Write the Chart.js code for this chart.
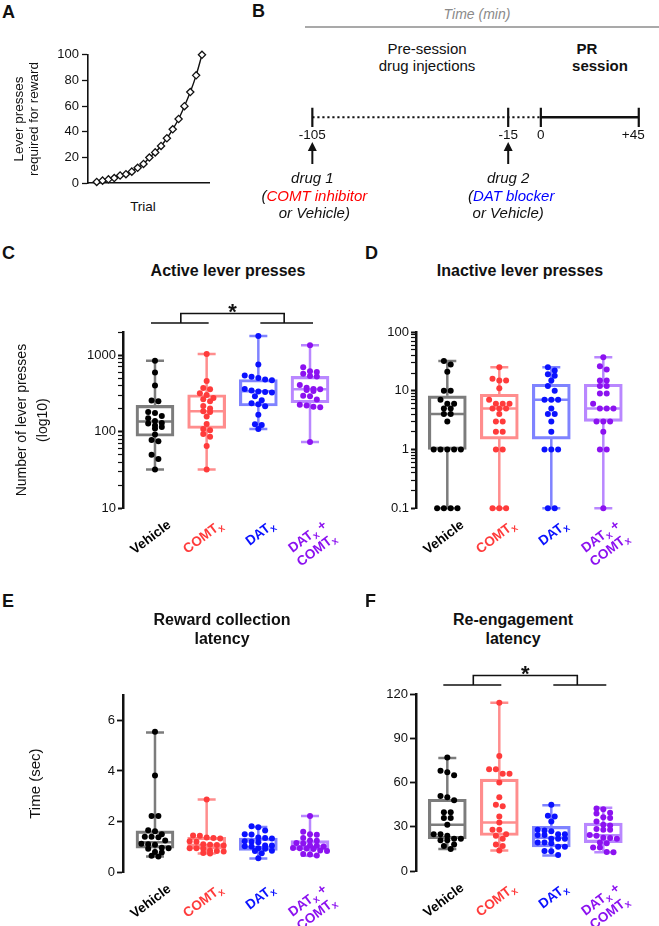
<!DOCTYPE html>
<html>
<head>
<meta charset="utf-8">
<title>PR schedule, timeline and lever press data</title>
<script src="https://cdn.jsdelivr.net/npm/chart.js@4.4.1/dist/chart.umd.min.js"></script>
<style>
  body { margin: 0; background: #fff; }
  #fig { position: relative; width: 659px; height: 926px; overflow: hidden;
         font-family: 'Liberation Sans', Arial, sans-serif; color: #111; }
  #fig canvas { position: absolute; }
  .t { position: absolute; white-space: nowrap; line-height: 1; font-size: 15px; transform: translate(-50%, -50%); }
  .ttl { font-weight: bold; font-size: 16px; }
  .letter { position: absolute; font-weight: bold; font-size: 18px; line-height: 1; }
  .xl { position: absolute; font-weight: bold; font-size: 13.5px; line-height: 16px; text-align: right;
        white-space: nowrap; transform-origin: 100% 0; transform: rotate(-37deg); }
  sub { font-size: 75%; vertical-align: -0.3em; line-height: 0; }
</style>
</head>
<body>
<div id="fig"></div>
<script>
// groups
const groupLabels = ['Vehicle', 'COMT<sub>x</sub>', 'DAT<sub>x</sub>', 'DAT<sub>x</sub> +<br>COMT<sub>x</sub>'];
const dotColors = ['#000000', '#ff3b3b', '#0b12ff', '#8c12f0'];
const boxColors = ['#7c7c7c', '#ff8d8d', '#7f83ff', '#b987ff'];

// A - progressive ratio schedule
const prTrials = [1, 2, 3, 4, 5, 6, 7, 8, 9, 10, 11, 12, 13, 14, 15, 16, 17, 18, 19];
const prPresses = [1, 2, 3, 4, 6, 7, 9, 12, 15, 20, 24, 29, 35, 42, 50, 60, 71, 84, 100];
const prTicks = [0, 20, 40, 60, 80, 100];

// B - timeline (min)
const timeMarks = [-105, -15, 0, 45];
const injectionTimes = [-105, -15];
const sessionWindow = [0, 45];

// C - active lever presses, box = [min, q1, median, q3, max]
const activeTicks = [10, 100, 1000];
const activeStats = [[32, 87, 136, 220, 840], [32, 110, 185, 303, 1030], [108, 216, 337, 480, 1775], [73, 238, 357, 527, 1340]];
const activeVehicle = [840, 590, 400, 255, 250, 180, 175, 160, 150, 138, 130, 128, 120, 115, 110, 92, 78, 75, 50, 44, 32];
const activeComt = [1030, 460, 370, 357, 316, 300, 275, 265, 250, 216, 200, 185, 180, 157, 126, 108, 104, 93, 86, 65, 32];
const activeDat = [1775, 755, 540, 520, 500, 480, 470, 360, 345, 335, 330, 325, 290, 257, 235, 228, 215, 166, 125, 122, 108];
const activeDatComt = [1340, 692, 615, 600, 570, 532, 525, 405, 375, 360, 357, 350, 340, 295, 290, 262, 225, 220, 212, 208, 73];

// D - inactive lever presses
const inactiveTicks = [0.1, 1, 10, 100];
const inactiveStats = [[0.1, 1, 4, 8.2, 32], [0.1, 1.5, 5, 8.7, 25], [0.1, 1.5, 7, 12.9, 25], [0.1, 3, 5, 12.9, 37]];
const inactiveVehicle = [32, 28, 21, 10, 10, 7, 6, 6, 5, 5, 4, 4, 3, 1, 1, 1, 1, 1, 0.1, 0.1, 0.1, 0.1];
const inactiveComt = [25, 16, 15, 15, 11, 7, 6, 6, 6, 5, 5, 5, 4, 3, 3, 2, 2, 1, 1, 0.1, 0.1, 0.1];
const inactiveDat = [25, 22, 19, 18, 15, 12, 10, 7, 7, 7, 5, 4, 4, 3, 2, 1, 1, 1, 0.1, 0.1];
const inactiveDatComt = [37, 26, 23, 15, 15, 12, 12, 9, 9, 6, 5, 5, 5, 3, 3, 3, 2, 1, 1, 0.1];

// E - reward collection latency (sec)
const rewardTicks = [0, 2, 4, 6];
const rewardStats = [[0.62, 0.95, 1.18, 1.63, 5.52], [0.74, 0.92, 1.07, 1.38, 2.87], [0.54, 0.86, 0.99, 1.35, 1.79], [0.65, 0.89, 1.03, 1.25, 2.22]];
const rewardVehicle = [5.55, 3.82, 2.22, 2.22, 1.66, 1.62, 1.5, 1.4, 1.4, 1.38, 1.25, 1.12, 1.1, 1.08, 0.97, 0.95, 0.93, 0.8, 0.78, 0.65, 0.62];
const rewardComt = [2.87, 1.45, 1.44, 1.37, 1.35, 1.33, 1.22, 1.2, 1.1, 1.08, 1.07, 1.05, 0.95, 0.95, 0.93, 0.85, 0.84, 0.82, 0.76, 0.74];
const rewardDat = [1.82, 1.78, 1.65, 1.5, 1.49, 1.37, 1.35, 1.33, 1.22, 1.2, 1.18, 1.05, 1.05, 1.03, 1.02, 0.95, 0.93, 0.85, 0.84, 0.75, 0.55];
const rewardDatComt = [2.22, 1.6, 1.5, 1.48, 1.35, 1.25, 1.24, 1.15, 1.13, 1.05, 1.04, 1.02, 0.96, 0.95, 0.94, 0.92, 0.86, 0.84, 0.72, 0.7, 0.66];

// F - re-engagement latency (sec)
const reengageTicks = [0, 30, 60, 90, 120];
const reengageStats = [[15, 22, 31.5, 48.7, 76.6], [14, 24.2, 33, 62.3, 114], [10.6, 16.5, 22.7, 30.4, 44.7], [12.8, 19.4, 24.3, 32.6, 43]];
const reengageVehicle = [77, 68, 67, 65, 51, 50, 48, 40, 40, 36, 36, 31.5, 25, 25, 24, 22, 22, 21, 21, 18, 17, 15];
const reengageComt = [114, 78, 69, 69, 66, 66, 60, 50, 45, 44, 37, 33, 28, 28, 25, 24, 22, 18, 17, 14];
const reengageDat = [45, 37.5, 37, 33.7, 28, 27.5, 27, 25, 25, 24.5, 24.5, 22, 22, 22, 19.5, 19.5, 19, 16.5, 16.5, 13.7, 13.5, 11];
const reengageDatComt = [42.5, 42, 39.6, 39, 36.5, 36, 33.7, 31.5, 31, 28.5, 28, 28, 24.5, 24, 22.7, 22.5, 22, 19.5, 19, 16, 16, 13, 12.8];

Chart.defaults.font.family = "'Liberation Sans', Arial, sans-serif";
Chart.defaults.color = '#111';

const fig = document.getElementById('fig');
const FIG_W = 659;

function addCanvas(r) {
  const c = document.createElement('canvas');
  c.width = r[2]; c.height = r[3];
  c.style.left = r[0] + 'px'; c.style.top = r[1] + 'px';
  c.style.width = r[2] + 'px'; c.style.height = r[3] + 'px';
  fig.appendChild(c);
  return c;
}

function addText(html, x, y, style, cls) {
  const d = document.createElement('div');
  d.className = 't' + (cls ? ' ' + cls : '');
  d.innerHTML = html;
  d.style.left = x + 'px';
  d.style.top = y + 'px';
  Object.assign(d.style, style || {});
  fig.appendChild(d);
  return d;
}

function addLetter(ch, x, y) {
  const d = document.createElement('div');
  d.className = 'letter';
  d.textContent = ch;
  d.style.left = x + 'px';
  d.style.top = y + 'px';
  fig.appendChild(d);
}

const isDecade = v => v > 0 && Math.abs(Math.log10(v) - Math.round(Math.log10(v))) < 1e-6;

function logMinorTicks(min, max) {
  const out = [];
  for (let e = Math.floor(Math.log10(min)); e <= Math.ceil(Math.log10(max)); e++) {
    for (let m = 1; m <= 9; m++) {
      const v = parseFloat((m * Math.pow(10, e)).toPrecision(6));
      if (v >= min - 1e-9 && v <= max + 1e-9) out.push(v);
    }
  }
  return out;
}

const baseOptions = {
  responsive: false,
  animation: false,
  events: [],
  plugins: { legend: { display: false }, tooltip: { enabled: false } }
};

// whiskers, caps and median line under the points
function whiskerPlugin(stats) {
  return {
    id: 'whiskers',
    beforeDatasetsDraw(chart) {
      const { ctx, scales: { x, y } } = chart;
      ctx.save();
      ctx.lineWidth = 2.5;
      stats.forEach((s, i) => {
        const cx = x.getPixelForValue(i);
        const [lo, q1, med, q3, hi] = s.map(v => y.getPixelForValue(v));
        ctx.strokeStyle = boxColors[i];
        ctx.beginPath();
        ctx.moveTo(cx, lo); ctx.lineTo(cx, q1);
        ctx.moveTo(cx, q3); ctx.lineTo(cx, hi);
        ctx.moveTo(cx - 9, lo); ctx.lineTo(cx + 9, lo);
        ctx.moveTo(cx - 9, hi); ctx.lineTo(cx + 9, hi);
        ctx.moveTo(cx - 18, med); ctx.lineTo(cx + 18, med);
        ctx.stroke();
      });
      ctx.restore();
    }
  };
}

// significance bracket: (Vehicle, COMT) vs (DAT, DAT+COMT)
const bracketPlugin = {
  id: 'bracket',
  afterDraw(chart) {
    const { ctx, chartArea: { top }, scales: { x } } = chart;
    const p = i => x.getPixelForValue(i);
    const low = top - 9, high = top - 18.5;
    const mL = (p(0) + p(1)) / 2, mR = (p(2) + p(3)) / 2;
    ctx.save();
    ctx.strokeStyle = '#111';
    ctx.lineWidth = 1.6;
    ctx.beginPath();
    ctx.moveTo(p(0) - 4, low); ctx.lineTo(p(1) + 2, low);
    ctx.moveTo(p(2) + 2, low); ctx.lineTo(p(3) + 3, low);
    ctx.moveTo(mL, low); ctx.lineTo(mL, high); ctx.lineTo(mR, high); ctx.lineTo(mR, low);
    ctx.stroke();
    ctx.fillStyle = '#111';
    ctx.font = "bold 22px 'Liberation Sans', Arial, sans-serif";
    ctx.textAlign = 'center';
    ctx.textBaseline = 'alphabetic';
    ctx.fillText('*', (mL + mR) / 2, high + 5);
    ctx.restore();
  }
};

// simple beeswarm: dots at about the same height sit side by side
function spread(chart, groups) {
  const { x, y } = chart.scales;
  const unit = x.getPixelForValue(1) - x.getPixelForValue(0);
  groups.forEach((vals, i) => {
    const order = vals.map((v, k) => k).sort((a, b) => vals[b] - vals[a]);
    const off = new Array(vals.length).fill(0);
    let row = [], rowPix = null;
    const flush = () => row.forEach((k, j) => { off[k] = (j - (row.length - 1) / 2) * 6.8; });
    order.forEach(k => {
      const py = y.getPixelForValue(vals[k]);
      if (rowPix === null || Math.abs(py - rowPix) > 4.8) { flush(); row = []; rowPix = py; }
      row.push(k);
    });
    flush();
    chart.data.datasets[i].data = vals.map((v, k) => ({ x: i + off[k] / unit, y: v }));
  });
  chart.update('none');
}

function addGroupLabels(chart, r) {
  const { x } = chart.scales;
  const bottom = chart.chartArea.bottom;
  groupLabels.forEach((html, i) => {
    const d = document.createElement('div');
    d.className = 'xl';
    d.innerHTML = html;
    d.style.color = dotColors[i];
    d.style.right = (FIG_W - (r[0] + x.getPixelForValue(i) + 10)) + 'px';
    d.style.top = (r[1] + bottom + 9) + 'px';
    fig.appendChild(d);
  });
}

function logAxis(min, max, labels, width, title) {
  return {
    type: 'logarithmic', min, max,
    afterBuildTicks: s => { s.ticks = logMinorTicks(min, max).map(v => ({ value: v })); },
    afterFit: s => { s.width = width; },
    ticks: { autoSkip: false, padding: 2, color: '#111', font: { size: 13 },
      callback: v => labels.includes(v) ? String(v) : '' },
    grid: { drawOnChartArea: false, tickLength: 5, tickColor: '#111',
      tickWidth: c => (c.tick && isDecade(c.tick.value)) ? 2 : 1.2 },
    border: { display: true, color: '#111', width: 2.5 },
    title: title || { display: false }
  };
}

function linAxis(min, max, ticks, width, title) {
  return {
    type: 'linear', min, max,
    afterBuildTicks: s => { s.ticks = ticks.map(v => ({ value: v })); },
    afterFit: s => { s.width = width; },
    ticks: { padding: 2, color: '#111', font: { size: 13 } },
    grid: { drawOnChartArea: false, tickLength: 6, tickColor: '#111', tickWidth: 1.8 },
    border: { display: true, color: '#111', width: 2.5 },
    title: title || { display: false }
  };
}

function boxPanel(o) {
  const datasets = o.points.map((vals, i) => ({
    type: 'scatter', order: 0, clip: false,
    data: vals.map(v => ({ x: i, y: v })),
    pointRadius: 3, pointHoverRadius: 3, pointBorderWidth: 0,
    backgroundColor: dotColors[i], pointBackgroundColor: dotColors[i]
  }));
  datasets.push({
    type: 'bar', order: 1,
    data: o.stats.map((s, i) => ({ x: i, y: [s[1], s[3]] })),
    backgroundColor: 'rgba(0,0,0,0)', borderColor: boxColors, borderWidth: 2.5,
    borderSkipped: false, barThickness: 38
  });
  const plugins = [whiskerPlugin(o.stats)];
  if (o.bracket) plugins.push(bracketPlugin);
  const chart = new Chart(addCanvas(o.rect), {
    type: 'scatter',
    data: { datasets },
    options: Object.assign({}, baseOptions, {
      layout: { padding: o.padding },
      scales: {
        x: { type: 'linear', display: false, offset: false, min: o.xRange[0], max: o.xRange[1] },
        y: o.y
      }
    }),
    plugins
  });
  spread(chart, o.points);
  addGroupLabels(chart, o.rect);
  return chart;
}

// ---------- A ----------
addLetter('A', 2, 3);
new Chart(addCanvas([0, 44, 215, 150]), {
  type: 'line',
  data: { datasets: [{
    data: prTrials.map((t, i) => ({ x: t, y: prPresses[i] })),
    borderColor: '#111', borderWidth: 1.4, cubicInterpolationMode: 'monotone',
    pointStyle: 'rectRot', pointRadius: 3.6, pointBackgroundColor: '#fff',
    pointBorderColor: '#111', pointBorderWidth: 1.3, clip: false
  }] },
  options: Object.assign({}, baseOptions, {
    layout: { padding: { left: 6, top: 10, right: 6, bottom: 4 } },
    scales: {
      x: { type: 'linear', min: -0.49, max: 20.2, afterFit: s => { s.height = 0; },
        ticks: { display: false }, grid: { display: false },
        border: { display: true, color: '#111', width: 1.6 } },
      y: { min: 0, max: 100,
        afterBuildTicks: s => { s.ticks = prTicks.map(v => ({ value: v })); },
        afterFit: s => { s.width = 82; },
        ticks: { padding: 3, font: { size: 13 }, color: '#111' },
        grid: { drawOnChartArea: false, tickLength: 6, tickColor: '#111', tickWidth: 1.3 },
        border: { display: true, color: '#111', width: 1.6 },
        title: { display: true, text: ['Lever presses', 'required for reward'], color: '#111',
          font: { size: 13.5, lineHeight: 1.1 }, padding: { top: 6, bottom: 0 } } }
    }
  })
});
addText('Trial', 143, 207, { fontSize: '13.5px' });

// ---------- B ----------
addLetter('B', 252, 2);
const arrowPlugin = {
  id: 'arrows',
  afterDraw(chart) {
    const { ctx, chartArea: { bottom }, scales: { x } } = chart;
    ctx.save();
    ctx.strokeStyle = '#111'; ctx.fillStyle = '#111'; ctx.lineWidth = 2;
    injectionTimes.forEach(t => {
      const px = x.getPixelForValue(t);
      ctx.beginPath(); ctx.moveTo(px, bottom + 37); ctx.lineTo(px, bottom + 22); ctx.stroke();
      ctx.beginPath(); ctx.moveTo(px, bottom + 15); ctx.lineTo(px - 4.5, bottom + 24);
      ctx.lineTo(px + 4.5, bottom + 24); ctx.closePath(); ctx.fill();
    });
    ctx.restore();
  }
};
const rectB = [230, 95, 429, 75];
const chartB = new Chart(addCanvas(rectB), {
  type: 'scatter',
  data: { datasets: [
    { data: [{ x: injectionTimes[0], y: 0 }, { x: sessionWindow[0], y: 0 }], showLine: true,
      borderColor: '#111', borderWidth: 2, borderDash: [2.2, 2.8], pointRadius: 0 },
    { data: sessionWindow.map(t => ({ x: t, y: 0 })), showLine: true,
      borderColor: '#111', borderWidth: 2.5, pointRadius: 0 },
    { data: timeMarks.map(t => ({ x: t, y: 0 })), pointStyle: 'line', rotation: 90, pointRadius: 10.5,
      borderColor: '#111', pointBorderColor: '#111', pointBorderWidth: 2.2 }
  ] },
  options: Object.assign({}, baseOptions, {
    layout: { padding: { top: 10, bottom: 43 } },
    scales: {
      x: { type: 'linear', display: false, min: -137, max: 48.46 },
      y: { display: false, min: -1, max: 1 }
    }
  }),
  plugins: [arrowPlugin]
});
timeMarks.forEach((t, k) => {
  const px = rectB[0] + chartB.scales.x.getPixelForValue(t);
  const last = k === timeMarks.length - 1;
  const d = addText(t > 0 ? '+' + t : String(t), last ? px + 6 : px, 135, { fontSize: '13.5px' });
  if (last) d.style.transform = 'translate(-100%, -50%)';
});
const inj = injectionTimes.map(t => rectB[0] + chartB.scales.x.getPixelForValue(t));
addText('<i>Time (min)</i>', 477, 14, { color: '#8a8a8a', fontSize: '14px' });
const rule = document.createElement('div');
Object.assign(rule.style, { position: 'absolute', left: '305px', top: '26px', width: '354px', borderTop: '2px solid #a9a9a9' });
fig.appendChild(rule);
addText('Pre-session', 427, 48);
addText('drug injections', 427, 65);
addText('<b>PR</b>', 587, 48);
addText('<b>session</b>', 600, 65);
addText('<i>drug 1</i>', inj[0], 177);
addText('<i>(<span style="color:#ff0000">COMT inhibitor</span></i>', inj[0] + 2, 195);
addText('<i>or Vehicle)</i>', inj[0] + 2, 212);
addText('<i>drug 2</i>', inj[1], 177);
addText('<i>(<span style="color:#0000ff">DAT blocker</span></i>', inj[1] + 3, 195);
addText('<i>or Vehicle)</i>', inj[1], 212);

// ---------- C ----------
addLetter('C', 2, 244);
addText('Active lever presses', 228, 271, null, 'ttl');
boxPanel({
  rect: [0, 290, 340, 228],
  padding: { left: 8, top: 42, right: 4, bottom: 4 },
  xRange: [-0.619, 3.503],
  stats: activeStats,
  points: [activeVehicle, activeComt, activeDat, activeDatComt],
  bracket: true,
  y: logAxis(10, 2000, activeTicks, 115, { display: true, text: ['Number of lever presses', '(log10)'],
    color: '#111', font: { size: 14, lineHeight: 1.5 }, padding: { top: 4, bottom: 0 } })
});

// ---------- D ----------
addLetter('D', 365, 244);
addText('Inactive lever presses', 520, 271, null, 'ttl');
boxPanel({
  rect: [340, 290, 319, 228],
  padding: { left: 0, top: 42, right: 9, bottom: 5 },
  xRange: [-0.602, 3.898],
  stats: inactiveStats,
  points: [inactiveVehicle, inactiveComt, inactiveDat, inactiveDatComt],
  bracket: false,
  y: logAxis(0.1, 100, inactiveTicks, 76)
});

// ---------- E ----------
addLetter('E', 2, 592);
addText('Reward collection', 222, 620, null, 'ttl');
addText('latency', 222, 639, null, 'ttl');
boxPanel({
  rect: [0, 652, 340, 230],
  padding: { left: 8, top: 43, right: 4, bottom: 5 },
  xRange: [-0.619, 3.503],
  stats: rewardStats,
  points: [rewardVehicle, rewardComt, rewardDat, rewardDatComt],
  bracket: false,
  y: linAxis(0, 7, rewardTicks, 115, { display: true, text: 'Time (sec)', color: '#111',
    font: { size: 15, lineHeight: 1.2 }, padding: { top: 19, bottom: 0 } })
});

// ---------- F ----------
addLetter('F', 365, 592);
addText('Re-engagement', 513, 620, null, 'ttl');
addText('latency', 513, 639, null, 'ttl');
boxPanel({
  rect: [340, 652, 319, 229],
  padding: { left: 0, top: 42, right: 9, bottom: 5 },
  xRange: [-0.602, 3.898],
  stats: reengageStats,
  points: [reengageVehicle, reengageComt, reengageDat, reengageDatComt],
  bracket: true,
  y: linAxis(0, 120, reengageTicks, 76)
});
</script>
</body>
</html>
